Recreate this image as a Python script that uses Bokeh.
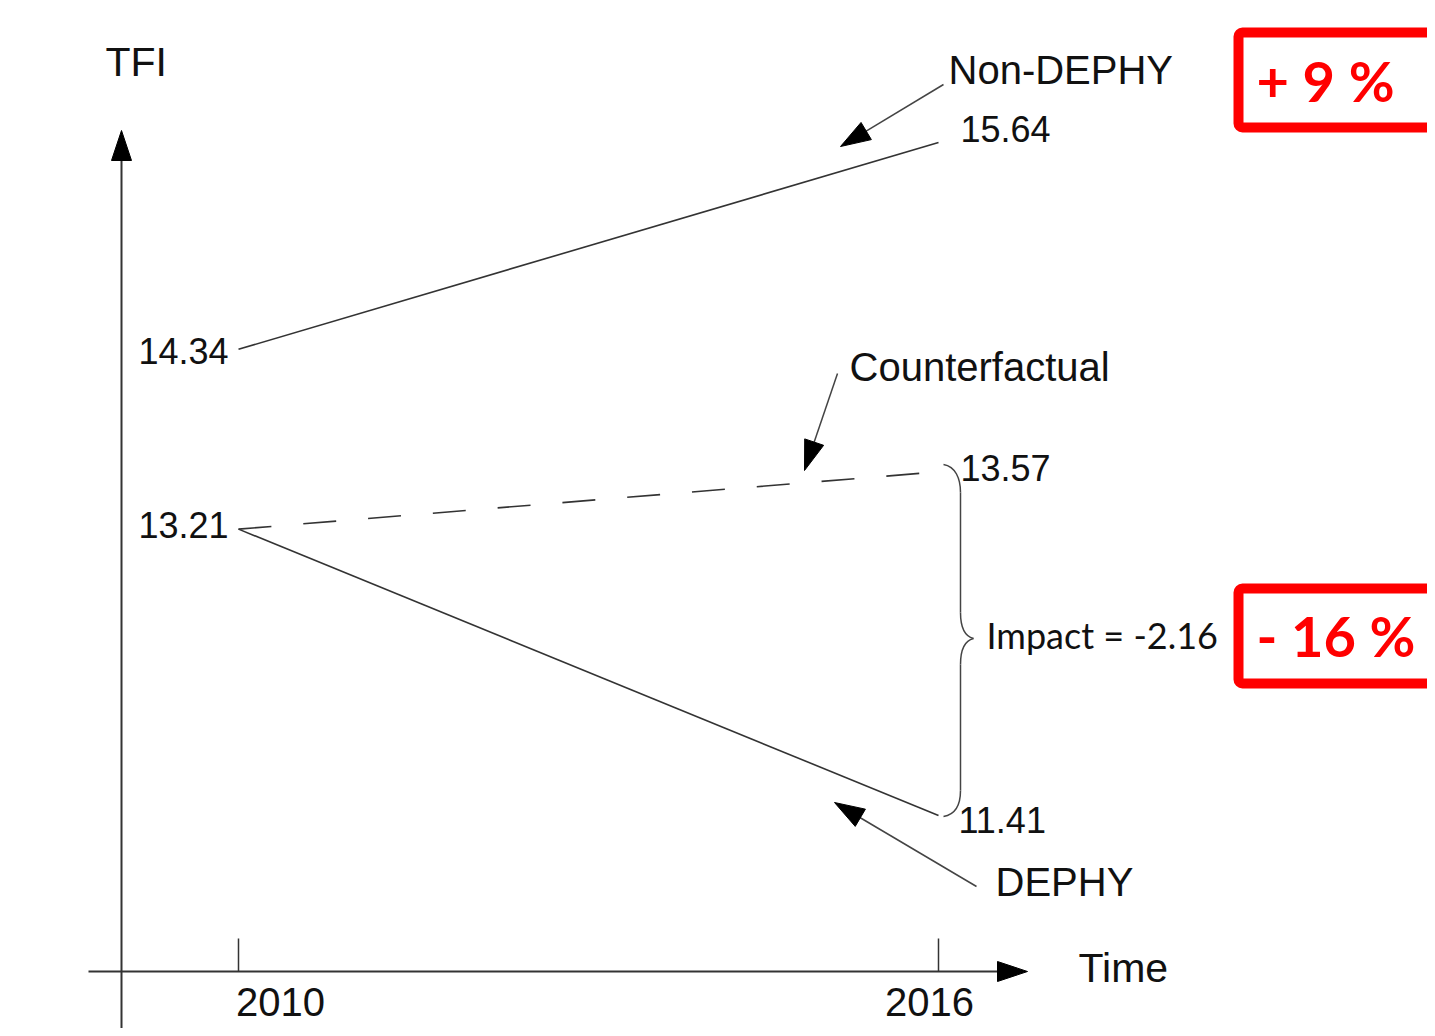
from bokeh.plotting import figure
from bokeh.models import BoxAnnotation, Range1d
from bokeh.core.properties import value
from bokeh.embed import file_html
from bokeh.resources import INLINE

# ---- data ----
years = [2010, 2016]
year_labels = ["2010", "2016"]
non_dephy = [14.34, 15.64]
counterfactual = [13.21, 13.57]
dephy = [13.21, 11.41]
impact_text = "Impact = -2.16"
non_dephy_change = "+ 9 %"
dephy_change = "- 16 %"

# ---- layout / scale ----
W, H = 1427, 1028
PX_PER_YEAR = 700 / 6
PX_PER_TFI = 673 / 4.23
X_2010 = 238
Y_TOP = 142
BASE_FIX = 0.39  # baseline correction (fraction of font size)

x_start = years[0] - X_2010 / PX_PER_YEAR
x_end = x_start + W / PX_PER_YEAR
y_end = max(non_dephy) + Y_TOP / PX_PER_TFI
y_start = y_end - H / PX_PER_TFI


def gx(X):
    return x_start + X / PX_PER_YEAR


def gy(Y):
    return y_end - Y / PX_PER_TFI


def px(xd, yd):
    return (xd - x_start) * PX_PER_YEAR, (y_end - yd) * PX_PER_TFI


def head(tip, tail, length=30, width=20):
    tx, ty = tip
    ux, uy = tx - tail[0], ty - tail[1]
    d = (ux ** 2 + uy ** 2) ** 0.5
    ux, uy = ux / d, uy / d
    bx, by = tx - ux * length, ty - uy * length
    nx, ny = -uy, ux
    pts = [(tx, ty), (bx + nx * width / 2, by + ny * width / 2), (bx - nx * width / 2, by - ny * width / 2)]
    return [gx(q[0]) for q in pts], [gy(q[1]) for q in pts]


def arrow(p, tail, tip, color="#444", lw=1.5, length=30, width=20):
    hx, hy = head(tip, tail, length, width)
    d = ((tip[0] - tail[0]) ** 2 + (tip[1] - tail[1]) ** 2) ** 0.5
    f = (d - length + 2) / d
    ex, ey = tail[0] + (tip[0] - tail[0]) * f, tail[1] + (tip[1] - tail[1]) * f
    p.line([gx(tail[0]), gx(ex)], [gy(tail[1]), gy(ey)], line_color=color, line_width=lw)
    p.patch(hx, hy, fill_color="black", line_color="black", line_width=1)


p = figure(width=W, height=H, output_backend="svg", toolbar_location=None,
           x_range=Range1d(x_start, x_end), y_range=Range1d(y_start, y_end),
           x_axis_location=None, y_axis_location=None, min_border=0,
           background_fill_color="white", border_fill_color="white")
p.outline_line_color = None
p.grid.visible = False

FONT = value("Liberation Sans")
INK = "#111111"


def txt(xs, baselines, texts, size, align="left", font=FONT, color=INK, style="normal"):
    p.text(x=[gx(X) for X in xs], y=[gy(B - BASE_FIX * size) for B in baselines],
           text=texts, text_font=font, text_font_size=f"{size}px",
           text_align=align, text_baseline="alphabetic", text_color=color,
           text_font_style=style)


# ---- axes drawn as arrows ----
arrow(p, (121, 1036), (121, 130), color="#333", lw=2, length=30, width=20)
arrow(p, (88, 971), (1027, 971), color="#333", lw=2, length=30, width=20)
p.segment(x0=years, y0=[gy(938)] * 2, x1=years, y1=[gy(971)] * 2,
          line_color="#333", line_width=1.5)
txt([280, 929], [1017, 1017], year_labels, 40, align="center")
txt([105, 1078], [77, 983], ["TFI", "Time"], 41)

# ---- data lines ----
p.line(years, non_dephy, line_color="#333", line_width=1.6)
p.line(years, counterfactual, line_color="#333", line_width=1.6, line_dash="33 32")
p.line(years, dephy, line_color="#333", line_width=1.6)


# ---- value labels, offset from their points ----
def vlabel(xd, yd, dx, dy, align):
    X, Y = px(xd, yd)
    txt([X + dx], [Y + dy], [f"{yd:.2f}"], 36, align=align)


vlabel(years[0], non_dephy[0], -10, 16, "right")
vlabel(years[1], non_dephy[1], 22, 1, "left")
vlabel(years[0], counterfactual[0], -10, 10, "right")
vlabel(years[1], counterfactual[1], 22, 10, "left")
vlabel(years[1], dephy[1], 20, 19, "left")

# ---- series names with pointer arrows ----
txt([948, 849, 995], [85, 382, 897], ["Non-DEPHY", "Counterfactual", "DEPHY"], 40)
arrow(p, (943, 84), (840, 146))
arrow(p, (837, 373), (804, 470))
arrow(p, (976, 886), (834, 802))

# ---- brace ----
segs = [
    ((943, 464), (955, 466), (960, 478), (960, 492)),
    ((960, 612), (960, 628), (965, 636), (973, 638)),
    ((973, 638), (965, 640), (960, 648), (960, 664)),
    ((960, 790), (960, 805), (955, 814), (943, 816)),
]
p.bezier(x0=[gx(s[0][0]) for s in segs], y0=[gy(s[0][1]) for s in segs],
         cx0=[gx(s[1][0]) for s in segs], cy0=[gy(s[1][1]) for s in segs],
         cx1=[gx(s[2][0]) for s in segs], cy1=[gy(s[2][1]) for s in segs],
         x1=[gx(s[3][0]) for s in segs], y1=[gy(s[3][1]) for s in segs],
         line_color="#444", line_width=1.5)
p.segment(x0=[gx(960)] * 2, y0=[gy(492), gy(664)], x1=[gx(960)] * 2,
          y1=[gy(612), gy(790)], line_color="#444", line_width=1.5)
txt([986], [649], [impact_text], 36, font=value("Lato"))

# ---- red change boxes ----
for top, bottom, label, base in [(32, 127, non_dephy_change, 102),
                                  (588, 683, dephy_change, 657)]:
    p.add_layout(BoxAnnotation(left=gx(1238), right=gx(1445), top=gy(top),
                               bottom=gy(bottom), fill_color=None, fill_alpha=0,
                               line_color="#ff0000", line_alpha=1.0, line_width=10,
                               border_radius=4))
    txt([1256], [base], [label], 56, font=value("Lato"), color="#ff0000", style="bold")

open("out.html", "w").write(file_html(p, INLINE))
